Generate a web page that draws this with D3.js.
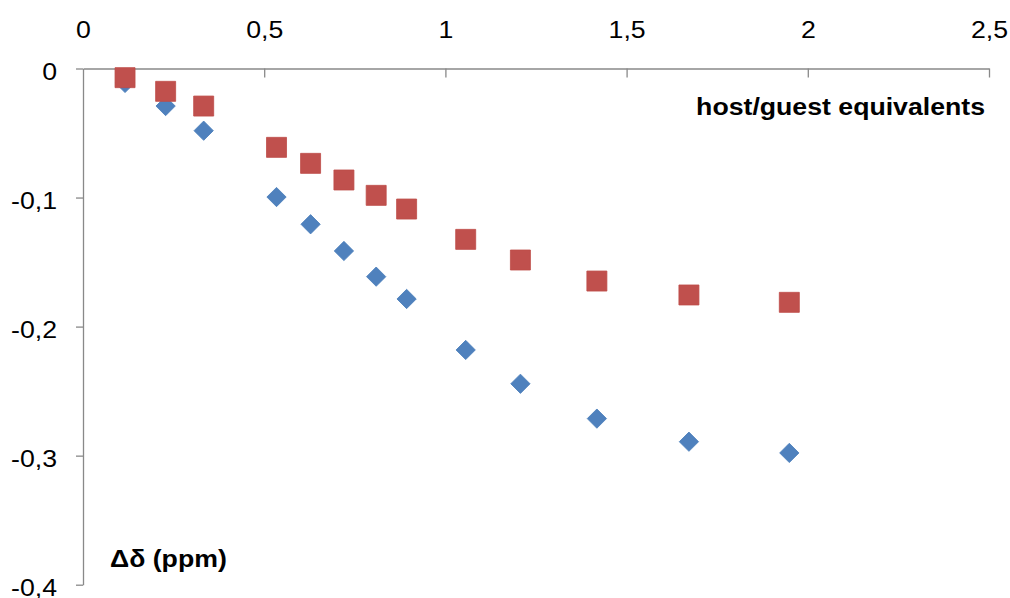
<!DOCTYPE html>
<html>
<head>
<meta charset="utf-8">
<script src="https://cdn.jsdelivr.net/npm/d3@7"></script>
<style>
  html, body { margin: 0; padding: 0; background: #fff; }
  svg { display: block; font-family: "Liberation Sans", Arial, sans-serif; }
</style>
</head>
<body>
<svg id="chart" width="1010" height="598"></svg>
<script>
// ---- data ----
const xValues = [0.116, 0.228, 0.333, 0.534, 0.628, 0.720, 0.809, 0.893, 1.056, 1.207, 1.418, 1.672, 1.949];
const seriesBlue = [-0.0112, -0.0291, -0.0482, -0.0996, -0.1207, -0.1414, -0.1613, -0.1786, -0.2181, -0.2443, -0.2713, -0.2892, -0.2979];
const seriesRed  = [-0.0071, -0.0177, -0.0291, -0.0611, -0.0735, -0.0864, -0.0983, -0.1089, -0.1324, -0.1484, -0.1647, -0.1755, -0.1812];
const xTicks = [0, 0.5, 1, 1.5, 2, 2.5];
const xTickLabels = ["0", "0,5", "1", "1,5", "2", "2,5"];
const yTicks = [0, -0.1, -0.2, -0.3, -0.4];
const yTickLabels = ["0", "-0,1", "-0,2", "-0,3", "-0,4"];
const xTitle = "host/guest equivalents";
const yTitle = "Δδ (ppm)";

// ---- layout ----
const svg = d3.select("#chart");
const x = d3.scaleLinear().domain([0, 2.5]).range([83, 989]);
const y = d3.scaleLinear().domain([0, -0.4]).range([68.5, 584.7]);
const SX = 1.16;
const FS = 23;
const axisColor = "#898989";

// x axis (top line, ticks down, labels above)
const gx = svg.append("g").attr("transform", `translate(0,${y(0)})`)
  .call(d3.axisTop(x).tickValues(xTicks).tickFormat((d, i) => xTickLabels[i])
        .tickSizeInner(-9).tickSizeOuter(0).tickPadding(30.3));
gx.select(".domain").attr("stroke", axisColor).attr("stroke-width", 1.3);
gx.selectAll(".tick line").attr("stroke", axisColor).attr("stroke-width", 1.3);
gx.selectAll(".tick").filter(d => d === 0).select("line").remove();
gx.selectAll(".tick text").attr("font-size", FS).attr("fill", "#000")
  .attr("font-family", "Liberation Sans, Arial, sans-serif")
  .attr("transform", `scale(${SX},1)`);

// y axis
const gy = svg.append("g").attr("transform", `translate(${x(0)},0)`)
  .call(d3.axisLeft(y).tickValues(yTicks).tickFormat((d, i) => yTickLabels[i])
        .tickSizeInner(7).tickSizeOuter(0).tickPadding(19));
gy.select(".domain").attr("stroke", axisColor).attr("stroke-width", 1.3);
gy.selectAll(".tick line").attr("stroke", axisColor).attr("stroke-width", 1.3);
gy.selectAll(".tick text").attr("font-size", FS).attr("fill", "#000")
  .attr("font-family", "Liberation Sans, Arial, sans-serif")
  .attr("x", 0).attr("dy", "0.47em")
  .attr("transform", `translate(-26,0) scale(${SX},1)`);

// axis titles
svg.append("text")
  .attr("transform", `translate(985,114.5) scale(${SX},1)`)
  .attr("text-anchor", "end").attr("font-weight", "bold").attr("font-size", FS)
  .text(xTitle);
svg.append("text")
  .attr("transform", `translate(110,567) scale(${SX},1)`)
  .attr("text-anchor", "start").attr("font-weight", "bold").attr("font-size", FS)
  .text(yTitle);

// markers
const diamond = d3.symbol().type(d3.symbolSquare).size(186);
const square = d3.symbol().type(d3.symbolSquare).size(400);

svg.append("g").selectAll("path").data(xValues.map((xv, i) => [xv, seriesBlue[i]]))
  .join("path")
  .attr("d", diamond)
  .attr("transform", d => `translate(${x(d[0])},${y(d[1])}) rotate(45)`)
  .attr("fill", "#4F81BD").attr("stroke", "#4A7EBB").attr("stroke-width", 0.8);

svg.append("g").selectAll("path").data(xValues.map((xv, i) => [xv, seriesRed[i]]))
  .join("path")
  .attr("d", square)
  .attr("transform", d => `translate(${x(d[0])},${y(d[1])})`)
  .attr("fill", "#C0504D").attr("stroke", "#BE4B48").attr("stroke-width", 0.8);
</script>
</body>
</html>
